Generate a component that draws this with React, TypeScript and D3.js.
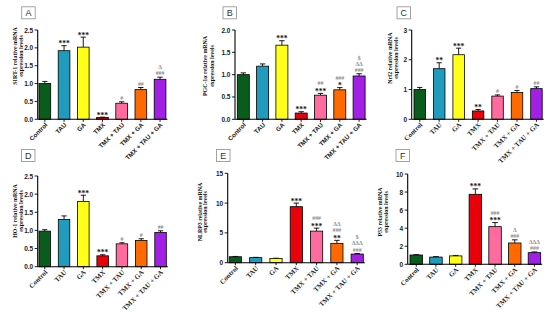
import React from "react";
import * as d3 from "d3";

const categories = ["Control", "TAU", "GA", "TMX", "TMX + TAU", "TMX + GA", "TMX + TAU + GA"];

const sirt1Values = [1.0, 1.92, 2.02, 0.05, 0.45, 0.83, 1.12];
const sirt1Errors = [0.06, 0.14, 0.28, 0.01, 0.04, 0.06, 0.06];
const sirt1Marks = [[], ["***"], ["***"], ["***"], ["#"], ["##"], ["###", "Δ"]];

const pgcValues = [1.0, 1.19, 1.66, 0.14, 0.54, 0.66, 0.97];
const pgcErrors = [0.04, 0.05, 0.1, 0.03, 0.04, 0.05, 0.05];
const pgcMarks = [[], [], ["***"], ["***"], ["***", "##"], ["*", "###"], ["###", "ΔΔ", "$"]];

const nrf2Values = [1.0, 1.7, 2.17, 0.28, 0.78, 0.9, 1.03];
const nrf2Errors = [0.07, 0.2, 0.22, 0.05, 0.04, 0.07, 0.06];
const nrf2Marks = [[], ["**"], ["***"], ["**"], ["#"], ["#"], ["##"]];

const ho1Values = [0.98, 1.3, 1.8, 0.3, 0.63, 0.72, 0.94];
const ho1Errors = [0.04, 0.1, 0.17, 0.03, 0.03, 0.05, 0.05];
const ho1Marks = [[], [], ["***"], ["***"], ["#"], ["#"], ["##"]];

const nlrp3Values = [1.0, 0.85, 0.7, 9.4, 5.3, 3.25, 1.45];
const nlrp3Errors = [0.05, 0.05, 0.05, 0.6, 0.5, 0.5, 0.1];
const nlrp3Marks = [[], [], [], ["***"], ["***", "###"], ["**", "###", "ΔΔ"], ["###", "ΔΔΔ", "$"]];

const p53Values = [1.03, 0.8, 0.93, 7.75, 4.17, 2.36, 1.29];
const p53Errors = [0.04, 0.05, 0.05, 0.6, 0.45, 0.35, 0.08];
const p53Marks = [[], [], [], ["***"], ["***", "###"], ["###", "Δ"], ["###", "ΔΔΔ"]];

const ticksA = [0, 0.5, 1.0, 1.5, 2.0, 2.5];
const ticksB = [0, 0.5, 1.0, 1.5, 2.0];
const ticksC = [0, 1, 2, 3];
const ticksD = [0, 0.5, 1.0, 1.5, 2.0, 2.5];
const ticksE = [0, 5, 10, 15];
const ticksF = [0, 2, 4, 6, 8, 10];

const barColors = ["#0a5c1c", "#1f9bbd", "#ffff1a", "#e8000b", "#ff6b9e", "#ff6a00", "#a21fe6"];

const SANS = "'Liberation Sans', Arial, sans-serif";
const SERIF = "'Liberation Serif', 'Times New Roman', serif";

type PanelProps = {
  letter: string;
  box: [number, number];
  labelLines: [string, string];
  labelX: [number, number];
  labelCY: number;
  values: number[];
  errors: number[];
  marks: string[][];
  ticks: number[];
  decimals: number;
  x0: number;
  firstLeft: number;
  step: number;
  bw: number;
  yTop: number;
  yBot: number;
  xFont: string;
  xFontSize: number;
};

function Panel(p: PanelProps) {
  const max = p.ticks[p.ticks.length - 1];
  const y = d3.scaleLinear().domain([0, max]).range([p.yBot, p.yTop]);
  const n = categories.length;
  const pad = (p.step - p.bw) / p.step;
  const x = d3
    .scaleBand<string>()
    .domain(categories)
    .range([p.firstLeft, p.firstLeft + (n - 1) * p.step + p.bw])
    .paddingInner(pad)
    .paddingOuter(0);
  const lastRight = (x(categories[n - 1]) as number) + x.bandwidth();
  const fmt = d3.format(`.${p.decimals}f`);
  return (
    <g>
      <rect x={p.box[0]} y={p.box[1]} width={13.5} height={12} fill="#fff" stroke="#9a9a9a" strokeWidth={0.9} />
      <text x={p.box[0] + 6.75} y={p.box[1] + 6.3} textAnchor="middle" dominantBaseline="central" fontFamily={SANS} fontSize={9} fill="#333">
        {p.letter}
      </text>
      {p.labelLines.map((l, i) => (
        <text
          key={i}
          transform={`translate(${p.labelX[i]},${p.labelCY}) rotate(-90)`}
          textAnchor="middle"
          dominantBaseline="central"
          fontFamily={SERIF}
          fontWeight="bold"
          fontSize={5.9}
          fill="#111"
        >
          {l}
        </text>
      ))}
      {categories.map((c, i) => {
        const bx = x(c) as number;
        const cx = bx + x.bandwidth() / 2;
        const top = y(p.values[i]);
        const et = y(p.values[i] + p.errors[i]);
        const capW = x.bandwidth() * 0.45;
        return (
          <g key={c}>
            <line x1={cx} x2={cx} y1={top} y2={et} stroke="#000" strokeWidth={0.9} />
            <line x1={cx - capW / 2} x2={cx + capW / 2} y1={et} y2={et} stroke="#000" strokeWidth={0.9} />
            <rect x={bx} y={top} width={x.bandwidth()} height={p.yBot - top} fill={barColors[i]} stroke="#000" strokeWidth={0.8} />
            {p.marks[i].map((m, j) => {
              const star = m.includes("*");
              const center = et - 4 - j * 6.2;
              return (
                <text
                  key={j}
                  x={cx}
                  y={center + (star ? 4.6 : 2.2)}
                  textAnchor="middle"
                  fontFamily={SERIF}
                  fontWeight="bold"
                  fontSize={star ? 7.5 : 5.8}
                  fill={star ? "#111" : "#8a8a8a"}
                >
                  {m}
                </text>
              );
            })}
            <line x1={cx} x2={cx} y1={p.yBot} y2={p.yBot + 2.5} stroke="#000" strokeWidth={0.9} />
            <text
              transform={`translate(${cx + 3},${p.yBot + 6}) rotate(-45)`}
              textAnchor="end"
              fontFamily={p.xFont}
              fontWeight="bold"
              fontSize={p.xFontSize}
              fill="#222"
            >
              {c}
            </text>
          </g>
        );
      })}
      <line x1={p.x0} x2={p.x0} y1={p.yTop} y2={p.yBot} stroke="#000" strokeWidth={1.1} />
      <line x1={p.x0} x2={lastRight + 1.5} y1={p.yBot} y2={p.yBot} stroke="#000" strokeWidth={1.1} />
      {p.ticks.map((t) => (
        <g key={t}>
          <line x1={p.x0 - 3} x2={p.x0} y1={y(t)} y2={y(t)} stroke="#000" strokeWidth={0.9} />
          <text x={p.x0 - 4.5} y={y(t)} textAnchor="end" dominantBaseline="central" fontFamily={SANS} fontWeight="bold" fontSize={6.5} fill="#222">
            {fmt(t)}
          </text>
        </g>
      ))}
    </g>
  );
}

export default function App() {
  return (
    <svg width={550} height={320} style={{ position: "absolute", left: 0, top: 0, background: "#fff" }}>
      <rect width={550} height={320} fill="#fff" />
      <Panel letter="A" box={[21.7, 6.8]} labelLines={["SIRT-1 relative mRNA", "expression levels"]} labelX={[15, 21]} labelCY={56}
        values={sirt1Values} errors={sirt1Errors} marks={sirt1Marks} ticks={ticksA} decimals={1}
        x0={37.7} firstLeft={39} step={19.2} bw={11.7} yTop={30} yBot={119.3} xFont={SANS} xFontSize={6.3} />
      <Panel letter="B" box={[223, 6.8]} labelLines={["PGC-1α relative mRNA", "expression levels"]} labelX={[205, 211.5]} labelCY={66}
        values={pgcValues} errors={pgcErrors} marks={pgcMarks} ticks={ticksB} decimals={1}
        x0={235} firstLeft={237.3} step={19.3} bw={12} yTop={30} yBot={119.3} xFont={SANS} xFontSize={6.3} />
      <Panel letter="C" box={[397, 6.8]} labelLines={["Nrf2 relative mRNA", "expression levels"]} labelX={[390, 396]} labelCY={58}
        values={nrf2Values} errors={nrf2Errors} marks={nrf2Marks} ticks={ticksC} decimals={0}
        x0={411.7} firstLeft={414} step={19.45} bw={11.5} yTop={30} yBot={119.3} xFont={SERIF} xFontSize={6.8} />
      <Panel letter="D" box={[21.5, 149.5]} labelLines={["HO-1 relative mRNA", "expression levels"]} labelX={[15, 21]} labelCY={211}
        values={ho1Values} errors={ho1Errors} marks={ho1Marks} ticks={ticksD} decimals={1}
        x0={37.7} firstLeft={39} step={19.3} bw={11.5} yTop={176} yBot={266.7} xFont={SERIF} xFontSize={6.8} />
      <Panel letter="E" box={[216.5, 149.5]} labelLines={["NLRP3 relative mRNA", "expression levels"]} labelX={[199.5, 205]} labelCY={212}
        values={nlrp3Values} errors={nlrp3Errors} marks={nlrp3Marks} ticks={ticksE} decimals={0}
        x0={227.7} firstLeft={229.3} step={20.3} bw={12.2} yTop={173.3} yBot={262.7} xFont={SERIF} xFontSize={6.8} />
      <Panel letter="F" box={[396, 149.5]} labelLines={["P53 relative mRNA", "expression levels"]} labelX={[380, 386]} labelCY={212}
        values={p53Values} errors={p53Errors} marks={p53Marks} ticks={ticksF} decimals={0}
        x0={407.7} firstLeft={410} step={19.7} bw={12.5} yTop={174} yBot={264.3} xFont={SERIF} xFontSize={6.8} />
    </svg>
  );
}
